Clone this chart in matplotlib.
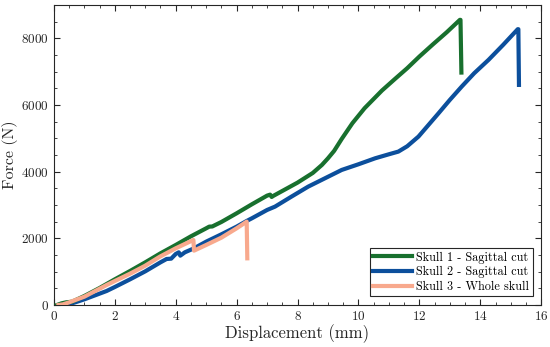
import matplotlib
matplotlib.use("Agg")
import matplotlib.pyplot as plt
from matplotlib.ticker import MultipleLocator

plt.rcParams["font.family"] = "serif"
plt.rcParams["font.serif"] = ["cmr10", "DejaVu Serif"]
plt.rcParams["mathtext.fontset"] = "cm"
plt.rcParams["axes.formatter.use_mathtext"] = True

GREEN = "#18702e"; BLUE = "#0c4f9c"; SALMON = "#f8a98d"; INK = "#262626"

# Skull 1 - Sagittal cut
s1_x = [0.1, 0.25, 0.4, 0.6, 1.0, 1.5, 2.0, 2.5, 3.0, 3.5, 4.0, 4.5, 5.0, 5.1, 5.2, 5.5,
        6.0, 6.5, 7.0, 7.1, 7.15, 7.2, 7.5, 8.0, 8.5, 8.8, 9.0, 9.2, 9.45, 9.8, 10.2,
        10.77, 11.2, 11.6, 12.0, 12.45, 12.9, 13.33, 13.35, 13.38]
s1_y = [0, 50, 80, 100, 270, 510, 770, 1020, 1280, 1550, 1800, 2060, 2300, 2350, 2355, 2490,
        2750, 3020, 3280, 3310, 3240, 3270, 3420, 3670, 3960, 4200, 4400, 4620, 4980, 5450, 5900,
        6430, 6780, 7100, 7450, 7820, 8180, 8550, 8550, 6970]

# Skull 2 - Sagittal cut
s2_x = [0.42, 0.7, 1.0, 1.73, 2.0, 2.5, 3.0, 3.5, 3.7, 3.85, 4.0, 4.1, 4.15, 4.3, 4.6,
        5.0, 5.5, 6.0, 6.33, 6.5, 7.0, 7.26, 7.8, 8.35, 8.9, 9.45, 10.0, 10.55, 11.0,
        11.31, 11.6, 11.97, 12.3, 12.63, 13.0, 13.39, 13.8, 14.27, 14.75, 15.23, 15.25, 15.27]
s2_y = [0, 80, 170, 420, 540, 770, 1010, 1280, 1380, 1390, 1530, 1580, 1480, 1580, 1700,
        1900, 2120, 2350, 2520, 2600, 2850, 2950, 3250, 3550, 3800, 4050, 4220, 4400, 4520,
        4600, 4760, 5050, 5400, 5750, 6150, 6550, 6950, 7350, 7800, 8270, 8270, 6600]

# Skull 3 - Whole skull
s3_x = [0.15, 0.3, 0.5, 1.0, 1.73, 2.0, 2.5, 3.0, 3.48, 4.0, 4.58, 4.6, 5.0, 5.5, 6.0, 6.33, 6.35]
s3_y = [0, 20, 80, 250, 600, 720, 940, 1180, 1450, 1700, 1950, 1630, 1800, 2020, 2300, 2500, 1400]

fig = plt.figure(figsize=(5.5, 3.47), dpi=100)
ax = fig.add_axes([0.098, 0.121, 0.886, 0.865])
ax.plot(s1_x, s1_y, color=GREEN, lw=3.0, label="Skull 1 - Sagittal cut", zorder=3,
        solid_joinstyle="round")
ax.plot(s2_x, s2_y, color=BLUE, lw=3.0, label="Skull 2 - Sagittal cut", zorder=2,
        solid_joinstyle="round")
ax.plot(s3_x, s3_y, color=SALMON, lw=3.0, label="Skull 3 - Whole skull", zorder=4,
        solid_joinstyle="round")

ax.set_xlim(0, 16); ax.set_ylim(0, 9000)
ax.xaxis.set_major_locator(MultipleLocator(2)); ax.xaxis.set_minor_locator(MultipleLocator(0.5))
ax.yaxis.set_major_locator(MultipleLocator(2000)); ax.yaxis.set_minor_locator(MultipleLocator(500))
ax.tick_params(which="both", direction="in", top=True, right=True, labelsize=9.5, colors=INK)
ax.tick_params(which="major", length=4, width=0.8)
ax.tick_params(which="minor", length=2, width=0.6)
for s in ax.spines.values():
    s.set_color(INK); s.set_linewidth(0.8)
ax.set_xlabel("Displacement (mm)", fontsize=12, labelpad=1, color=INK)
ax.set_ylabel("Force (N)", fontsize=11.5, labelpad=2, color=INK)

leg = ax.legend(loc="lower right", fontsize=8.8, fancybox=False, framealpha=1, edgecolor=INK,
                handlelength=3.2, handletextpad=0.3, borderpad=0.3, labelspacing=0.2,
                borderaxespad=0.7)
leg.get_frame().set_linewidth(0.8)

fig.savefig("out.png", dpi=100)
